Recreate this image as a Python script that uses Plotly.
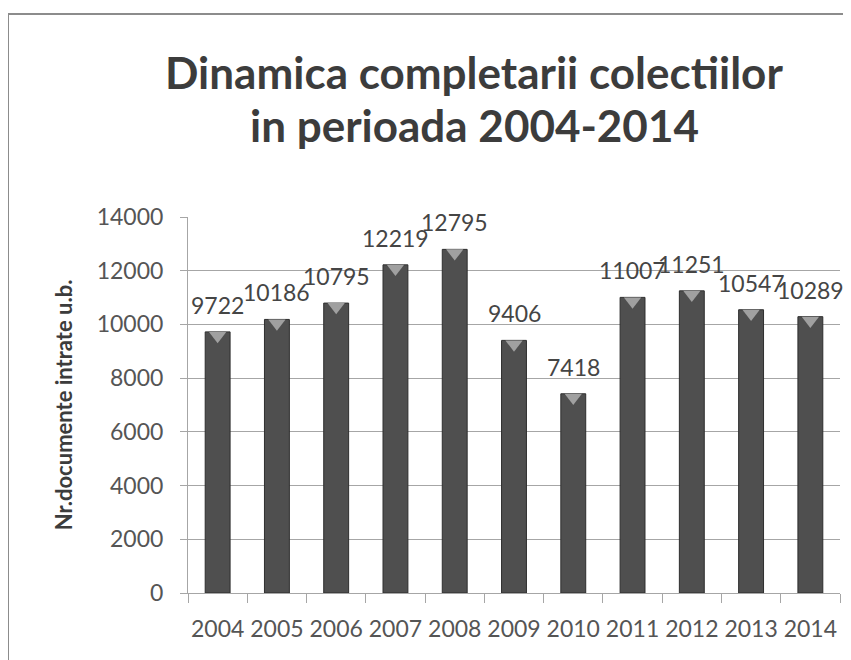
import plotly.graph_objects as go

years = ["2004", "2005", "2006", "2007", "2008", "2009", "2010", "2011", "2012", "2013", "2014"]
values = [9722, 10186, 10795, 12219, 12795, 9406, 7418, 11007, 11251, 10547, 10289]
y_ticks = [0, 2000, 4000, 6000, 8000, 10000, 12000, 14000]
title_lines = ["Dinamica completarii colectiilor", "in perioada 2004-2014"]
y_title = "Nr.documente intrate u.b."

W, H = 851, 660
OFF = 8  # page body margin shifts the figure by this many pixels
# plot area in screen pixels
SX0, SX1, SY0, SY1 = 188, 840, 217, 593
ML, MT = SX0 - OFF, SY0 - OFF
MR, MB = W - (SX1 - OFF), H - (SY1 - OFF)
PW, PH = W - ML - MR, H - MT - MB
YMAX = 14000

def px_x(sx):
    return (sx - OFF - ML) / PW

def px_y(sy):
    return (H - MB - (sy - OFF)) / PH

MSIZE = 15
bevel_off = (MSIZE / 4) * YMAX / PH

fig = go.Figure()
fig.add_trace(go.Bar(
    x=years, y=values,
    marker=dict(color="#4f4f4f", line=dict(color="#2e2e2e", width=1)),
    width=0.42,
    hoverinfo="x+y",
))
fig.add_trace(go.Scatter(
    x=years, y=[v - bevel_off for v in values],
    mode="markers",
    marker=dict(symbol="triangle-down", size=MSIZE, color="#a0a0a0",
                line=dict(width=0)),
    hoverinfo="skip",
))

annotations = []
for i, v in enumerate(values):
    annotations.append(dict(
        x=i, y=v, xref="x", yref="y", text=str(v), showarrow=False,
        yanchor="bottom", yshift=11,
        font=dict(family="Lato", size=23, color="#454545"),
    ))
for line, sy in zip(title_lines, [72, 125]):
    annotations.append(dict(
        x=px_x(474), y=px_y(sy), xref="paper", yref="paper",
        text=line, showarrow=False, xanchor="center", yanchor="middle",
        font=dict(family="Lato", size=44, color="#3c3c3c", weight="bold"),
    ))

fig.update_layout(
    width=W, height=H,
    margin=dict(l=ML, r=MR, t=MT, b=MB),
    paper_bgcolor="white", plot_bgcolor="white",
    showlegend=False,
    annotations=annotations,
    xaxis=dict(
        type="category", range=[-0.5, len(years) - 0.5], automargin=False,
        showline=True, linecolor="#a6a6a6", linewidth=1,
        ticks="outside", ticklen=9, tickcolor="#a6a6a6", tickson="boundaries",
        tickfont=dict(family="Lato", size=23, color="#555555"),
        tickangle=0, ticklabelstandoff=15,
        showgrid=False,
    ),
    yaxis=dict(
        range=[0, YMAX], tickvals=y_ticks, tickformat="d", automargin=False,
        showline=True, linecolor="#a6a6a6", linewidth=1,
        ticks="outside", ticklen=7, tickcolor="#a6a6a6",
        showgrid=True, gridcolor="#a6a6a6", gridwidth=1,
        tickfont=dict(family="Lato", size=23, color="#555555"),
        ticklabelstandoff=12,
        zeroline=False,
        title=dict(text=y_title, standoff=17,
                   font=dict(family="Lato", size=22, color="#3c3c3c", weight="bold")),
    ),
    shapes=[
        dict(type="line", xref="paper", yref="paper",
             x0=px_x(8), x1=px_x(W + 20), y0=px_y(14), y1=px_y(14),
             line=dict(color="#8c8c8c", width=2)),
        dict(type="line", xref="paper", yref="paper",
             x0=px_x(8), x1=px_x(8), y0=px_y(14), y1=px_y(H + 20),
             line=dict(color="#8c8c8c", width=2)),
    ],
)

fig.write_html("out.html")
